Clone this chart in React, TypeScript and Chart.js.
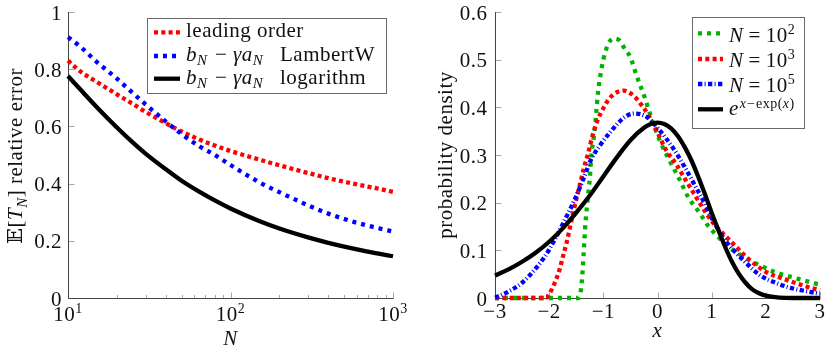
import { useEffect, useRef } from 'react';
import { Chart, registerables } from 'chart.js';

Chart.register(...registerables);

const FONT = '"Liberation Serif", "DejaVu Serif", "DejaVu Sans", serif';
const BASE = 21;
const SUB = 15;
const SUP = 14;
const TEXT = '#111111';
const AXIS = '#444444';
const TICK = '#a8a8a8';
const RED = '#ff0000';
const BLUE = '#0000ff';
const GREEN = 'rgb(0,179,0)';
const BLACK = '#000000';

// ---------- left chart: relative error vs N ----------
const errN = [10, 12, 15, 20, 25, 30, 40, 50, 65, 80, 100, 150, 200, 300, 400, 600, 800, 1000];
const errLeading = [0.83, 0.791, 0.756, 0.712, 0.679, 0.651, 0.611, 0.582, 0.553, 0.533, 0.514, 0.484, 0.464, 0.437, 0.419, 0.397, 0.383, 0.371];
const errLambertW = [0.912, 0.877, 0.826, 0.767, 0.717, 0.677, 0.617, 0.573, 0.529, 0.5, 0.465, 0.405, 0.37, 0.324, 0.295, 0.263, 0.245, 0.232];
const errLogarithm = [0.776, 0.727, 0.668, 0.596, 0.544, 0.505, 0.45, 0.41, 0.37, 0.341, 0.313, 0.269, 0.243, 0.212, 0.193, 0.17, 0.156, 0.146];
const errYTicks = [0, 0.2, 0.4, 0.6, 0.8, 1];
const errYLabels = ['0', '0.2', '0.4', '0.6', '0.8', '1'];
const errXMajor = [10, 100, 1000];
const errXExps = ['1', '2', '3'];
const errXMinor = [20, 30, 40, 50, 60, 70, 80, 90, 200, 300, 400, 500, 600, 700, 800, 900];

// ---------- right chart: probability density ----------
const n2X = [-3, -2, -1.46, -1.43, -1.39, -1.36, -1.33, -1.29, -1.25, -1.22, -1.16, -1.13, -1.1, -1.05, -1.0, -0.92, -0.82, -0.72, -0.6, -0.5, -0.39, -0.24, -0.12, 0.04, 0.22, 0.41, 0.56, 0.78, 0.93, 1.03, 1.27, 1.58, 1.86, 2.2, 2.6, 3];
const n2Y = [0, 0, 0, 0.005, 0.045, 0.1, 0.157, 0.206, 0.251, 0.3, 0.352, 0.39, 0.43, 0.47, 0.5, 0.53, 0.544, 0.542, 0.522, 0.505, 0.468, 0.422, 0.38, 0.331, 0.289, 0.248, 0.213, 0.178, 0.152, 0.139, 0.111, 0.087, 0.07, 0.053, 0.04, 0.028];
const n3X = [-3, -2.5, -2.06, -2.0, -1.9, -1.81, -1.745, -1.68, -1.62, -1.56, -1.48, -1.42, -1.36, -1.28, -1.2, -1.1, -1.0, -0.9, -0.79, -0.62, -0.42, -0.27, -0.17, -0.02, 0.16, 0.35, 0.5, 0.69, 0.87, 1.03, 1.36, 1.7, 2.0, 2.38, 2.75, 3];
const n3Y = [0, 0, 0, 0.008, 0.031, 0.059, 0.087, 0.115, 0.146, 0.178, 0.216, 0.244, 0.272, 0.304, 0.34, 0.375, 0.398, 0.417, 0.429, 0.435, 0.422, 0.401, 0.384, 0.352, 0.31, 0.28, 0.251, 0.216, 0.183, 0.157, 0.118, 0.08, 0.055, 0.038, 0.024, 0.016];
const n5X = [-3, -2.95, -2.76, -2.51, -2.27, -2.08, -1.9, -1.71, -1.53, -1.375, -1.22, -1.05, -0.88, -0.6, -0.42, -0.2, 0.01, 0.29, 0.5, 0.72, 0.9, 1.0, 1.27, 1.58, 1.89, 2.2, 2.5, 2.81, 3];
const n5Y = [0.001, 0.003, 0.013, 0.031, 0.059, 0.087, 0.122, 0.164, 0.206, 0.248, 0.292, 0.322, 0.347, 0.38, 0.387, 0.38, 0.356, 0.314, 0.275, 0.23, 0.192, 0.168, 0.118, 0.08, 0.048, 0.031, 0.02, 0.013, 0.009];
const gumX = [-3, -2.75, -2.5, -2.25, -2, -1.75, -1.5, -1.25, -1, -0.75, -0.5, -0.25, -0.125, 0, 0.125, 0.25, 0.375, 0.5, 0.625, 0.75, 0.875, 1, 1.125, 1.25, 1.375, 1.5, 1.625, 1.75, 1.875, 2, 2.25, 2.5, 3];
const gumY = [0.047, 0.06, 0.076, 0.095, 0.118, 0.146, 0.179, 0.215, 0.255, 0.295, 0.331, 0.357, 0.365, 0.368, 0.365, 0.356, 0.34, 0.317, 0.289, 0.255, 0.218, 0.179, 0.142, 0.107, 0.076, 0.051, 0.032, 0.018, 0.01, 0.005, 0.001, 0, 0];
const denXTicks = [-3, -2, -1, 0, 1, 2, 3];
const denXLabels = ['\u22123', '\u22122', '\u22121', '0', '1', '2', '3'];
const denYTicks = [0, 0.1, 0.2, 0.3, 0.4, 0.5, 0.6];
const denYLabels = ['0', '0.1', '0.2', '0.3', '0.4', '0.5', '0.6'];

const DOTS = [4, 3.3];
const LOOSE = [4, 5];
const DASHDOT = [4.3, 2.3, 1, 2.4];
const LW = 4.3;

type Run = { t: string; it?: boolean; sz?: number; dy?: number; gap?: number; at?: number };

function setFont(ctx: CanvasRenderingContext2D, r: Run, base: number) {
  ctx.font = `${r.it ? 'italic ' : ''}${r.sz ?? base}px ${FONT}`;
  (ctx as any).letterSpacing = '0.5px';
}

function runsWidth(ctx: CanvasRenderingContext2D, runs: Run[], base: number) {
  let cx = 0;
  for (const r of runs) {
    if (r.at !== undefined) cx = r.at;
    cx += r.gap ?? 0;
    setFont(ctx, r, base);
    cx += ctx.measureText(r.t).width;
  }
  return cx;
}

function drawRuns(ctx: CanvasRenderingContext2D, runs: Run[], x: number, y: number, base: number) {
  let cx = 0;
  ctx.textAlign = 'left';
  ctx.textBaseline = 'alphabetic';
  ctx.fillStyle = TEXT;
  for (const r of runs) {
    if (r.at !== undefined) cx = r.at;
    cx += r.gap ?? 0;
    setFont(ctx, r, base);
    ctx.fillText(r.t, x + cx, y + (r.dy ?? 0));
    cx += ctx.measureText(r.t).width;
  }
}

function drawCentered(ctx: CanvasRenderingContext2D, runs: Run[], cx: number, y: number, base: number) {
  ctx.save();
  const w = runsWidth(ctx, runs, base);
  drawRuns(ctx, runs, cx - w / 2, y, base);
  ctx.restore();
}

function sample(ctx: CanvasRenderingContext2D, x0: number, x1: number, y: number, color: string, dash: number[]) {
  ctx.save();
  ctx.strokeStyle = color;
  ctx.lineWidth = LW;
  ctx.lineCap = 'butt';
  ctx.setLineDash(dash);
  ctx.beginPath();
  ctx.moveTo(x0, y);
  ctx.lineTo(x1, y);
  ctx.stroke();
  ctx.restore();
}

function legendBox(ctx: CanvasRenderingContext2D, x0: number, y0: number, x1: number, y1: number) {
  ctx.save();
  ctx.fillStyle = '#ffffff';
  ctx.fillRect(x0, y0, x1 - x0, y1 - y0);
  ctx.strokeStyle = '#6a6a6a';
  ctx.lineWidth = 1;
  ctx.strokeRect(Math.round(x0) + 0.5, Math.round(y0) + 0.5, Math.round(x1 - x0), Math.round(y1 - y0));
  ctx.restore();
}

function drawAxesFrame(chart: any, xTicks: { v: number; len: number }[], yTicks: number[]) {
  const { ctx, chartArea } = chart;
  const xs = chart.scales.x;
  const ys = chart.scales.y;
  const L = Math.round(chartArea.left) + 0.5;
  const B = Math.round(chartArea.bottom) + 0.5;
  ctx.save();
  ctx.lineWidth = 1;
  ctx.strokeStyle = TICK;
  ctx.beginPath();
  for (const t of xTicks) {
    const px = Math.round(xs.getPixelForValue(t.v)) + 0.5;
    ctx.moveTo(px, B);
    ctx.lineTo(px, B - t.len);
  }
  for (const v of yTicks) {
    const py = Math.round(ys.getPixelForValue(v)) + 0.5;
    ctx.moveTo(L, py);
    ctx.lineTo(L + 6, py);
  }
  ctx.stroke();
  ctx.strokeStyle = AXIS;
  ctx.beginPath();
  ctx.moveTo(L, Math.round(chartArea.top));
  ctx.lineTo(L, B);
  ctx.lineTo(Math.round(chartArea.right) + 0.5, B);
  ctx.stroke();
  ctx.restore();
}

function drawYLabels(chart: any, ticks: number[], labels: string[], pad: number) {
  const { ctx, chartArea } = chart;
  const ys = chart.scales.y;
  ctx.save();
  ctx.font = `${BASE}px ${FONT}`;
  (ctx as any).letterSpacing = '0.5px';
  ctx.fillStyle = TEXT;
  ctx.textAlign = 'right';
  ctx.textBaseline = 'alphabetic';
  ticks.forEach((v, i) => {
    ctx.fillText(labels[i], chartArea.left - pad, ys.getPixelForValue(v) + 7.5);
  });
  ctx.restore();
}

function drawRotatedTitle(ctx: CanvasRenderingContext2D, runs: Run[], bx: number, cy: number, base: number) {
  ctx.save();
  ctx.translate(bx, cy);
  ctx.rotate(-Math.PI / 2);
  drawCentered(ctx, runs, 0, 0, base);
  ctx.restore();
}

const leftPlugin = {
  id: 'leftDecor',
  beforeDatasetsDraw(chart: any) {
    const ctx = chart.ctx as CanvasRenderingContext2D;
    const xTicks = [
      ...errXMajor.map((v) => ({ v, len: 6 })),
      ...errXMinor.map((v) => ({ v, len: 3.5 })),
    ];
    drawAxesFrame(chart, xTicks, errYTicks);
    drawYLabels(chart, errYTicks, errYLabels, 6);
    const xs = chart.scales.x;
    errXMajor.forEach((v, i) => {
      drawCentered(ctx, [{ t: '10' }, { t: errXExps[i], sz: SUP, dy: -7.7 }], xs.getPixelForValue(v), 320.7, BASE);
    });
    const ca = chart.chartArea;
    drawCentered(ctx, [{ t: 'N', it: true }], (ca.left + ca.right) / 2, 345, BASE);
    drawRotatedTitle(
      ctx,
      [
        { t: '\u{1D53C}' },
        { t: '[' },
        { t: 'T', it: true },
        { t: 'N', it: true, sz: SUB, dy: 4.5 },
        { t: ']' },
        { t: ' relative error' },
      ],
      22,
      156,
      BASE,
    );
  },
  afterDraw(chart: any) {
    const ctx = chart.ctx as CanvasRenderingContext2D;
    legendBox(ctx, 147, 18, 386, 93);
    sample(ctx, 154, 180, 32.3, RED, DOTS);
    sample(ctx, 154, 180, 56, BLUE, LOOSE);
    sample(ctx, 154, 180, 78.7, BLACK, []);
    const tx = 186;
    drawRuns(ctx, [{ t: 'leading order' }], tx, 37.3, BASE);
    const pre: Run[] = [
      { t: 'b', it: true },
      { t: 'N', it: true, sz: SUB, dy: 4.5 },
      { t: '\u2212', at: 29 },
      { t: '\u03B3', it: true, at: 47 },
      { t: 'a', it: true },
      { t: 'N', it: true, sz: SUB, dy: 4.5 },
    ];
    drawRuns(ctx, [...pre, { t: 'LambertW', at: 94 }], tx, 60.7, BASE);
    drawRuns(ctx, [...pre, { t: 'logarithm', at: 94 }], tx, 83.5, BASE);
  },
};

const rightPlugin = {
  id: 'rightDecor',
  beforeDatasetsDraw(chart: any) {
    const ctx = chart.ctx as CanvasRenderingContext2D;
    drawAxesFrame(chart, denXTicks.map((v) => ({ v, len: 6 })), denYTicks);
    drawYLabels(chart, denYTicks, denYLabels, 7.5);
    const xs = chart.scales.x;
    denXTicks.forEach((v, i) => {
      drawCentered(ctx, [{ t: denXLabels[i] }], xs.getPixelForValue(v), 318, BASE);
    });
    const ca = chart.chartArea;
    drawCentered(ctx, [{ t: 'x', it: true }], (ca.left + ca.right) / 2, 337, BASE);
    drawRotatedTitle(ctx, [{ t: 'probability density' }], 36.6, 155, BASE);
  },
  afterDraw(chart: any) {
    const ctx = chart.ctx as CanvasRenderingContext2D;
    legendBox(ctx, 277, 17, 389, 128);
    sample(ctx, 283, 308, 33.3, GREEN, LOOSE);
    sample(ctx, 283, 308, 59, RED, DOTS);
    sample(ctx, 283, 308, 84, BLUE, DASHDOT);
    sample(ctx, 283, 308, 109.3, BLACK, []);
    const tx = 314;
    const nRow = (e: string): Run[] => [
      { t: 'N', it: true },
      { t: '=', gap: 5 },
      { t: '10', gap: 5 },
      { t: e, sz: SUP, dy: -8 },
    ];
    drawRuns(ctx, nRow('2'), tx, 41.6, BASE);
    drawRuns(ctx, nRow('3'), tx, 66.7, BASE);
    drawRuns(ctx, nRow('5'), tx, 91.7, BASE);
    drawRuns(
      ctx,
      [
        { t: 'e', it: true },
        { t: 'x', it: true, sz: SUP, dy: -7, gap: 1 },
        { t: '\u2212', sz: SUP, dy: -7, gap: 0.5 },
        { t: 'exp', sz: SUP, dy: -7, gap: 0.5 },
        { t: '(', sz: SUP, dy: -7 },
        { t: 'x', it: true, sz: SUP, dy: -7 },
        { t: ')', sz: SUP, dy: -7 },
      ],
      tx,
      115,
      BASE,
    );
  },
};

function lineDs(xs: number[], ys: number[], color: string, dash: number[], order: number) {
  return {
    data: xs.map((x, i) => ({ x, y: ys[i] })),
    borderColor: color,
    backgroundColor: color,
    borderWidth: LW,
    borderDash: dash,
    borderCapStyle: 'butt' as const,
    pointRadius: 0,
    pointHoverRadius: 0,
    cubicInterpolationMode: 'monotone' as const,
    tension: 0.4,
    fill: false,
    clip: false as const,
    order,
  };
}

function baseScales(xType: string, xMin: number, xMax: number, yMax: number, yWidth: number) {
  return {
    x: {
      type: xType,
      min: xMin,
      max: xMax,
      grid: { display: false },
      border: { display: false },
      ticks: { display: false },
      afterFit: (s: any) => {
        s.height = 53;
      },
    },
    y: {
      type: 'linear',
      min: 0,
      max: yMax,
      grid: { display: false },
      border: { display: false },
      ticks: { display: false },
      afterFit: (s: any) => {
        s.width = yWidth;
      },
    },
  };
}

export default function App() {
  const leftRef = useRef<HTMLCanvasElement>(null);
  const rightRef = useRef<HTMLCanvasElement>(null);

  useEffect(() => {
    const left = new Chart(leftRef.current as HTMLCanvasElement, {
      type: 'line',
      data: {
        datasets: [
          lineDs(errN, errLeading, RED, DOTS, 3),
          lineDs(errN, errLambertW, BLUE, LOOSE, 2),
          lineDs(errN, errLogarithm, BLACK, [], 1),
        ] as any,
      },
      options: {
        responsive: false,
        animation: false,
        devicePixelRatio: 1,
        events: [],
        layout: { padding: { top: 12, right: 22, left: 0, bottom: 0 } },
        plugins: { legend: { display: false }, tooltip: { enabled: false }, title: { display: false } },
        scales: baseScales('logarithmic', 10, 1000, 1, 68) as any,
      },
      plugins: [leftPlugin],
    });
    const right = new Chart(rightRef.current as HTMLCanvasElement, {
      type: 'line',
      data: {
        datasets: [
          lineDs(n2X, n2Y, GREEN, LOOSE, 4),
          lineDs(n3X, n3Y, RED, DOTS, 3),
          lineDs(n5X, n5Y, BLUE, DASHDOT, 2),
          lineDs(gumX, gumY, BLACK, [], 1),
        ] as any,
      },
      options: {
        responsive: false,
        animation: false,
        devicePixelRatio: 1,
        events: [],
        layout: { padding: { top: 12, right: 10, left: 0, bottom: 0 } },
        plugins: { legend: { display: false }, tooltip: { enabled: false }, title: { display: false } },
        scales: baseScales('linear', -3, 3, 0.6, 80) as any,
      },
      plugins: [rightPlugin],
    });
    return () => {
      left.destroy();
      right.destroy();
    };
  }, []);

  return (
    <div style={{ position: 'absolute', left: 0, top: 0, width: 830, height: 351, background: '#ffffff' }}>
      <canvas
        ref={leftRef}
        width={415}
        height={351}
        style={{ position: 'absolute', left: 0, top: 0, width: 415, height: 351 }}
      />
      <canvas
        ref={rightRef}
        width={415}
        height={351}
        style={{ position: 'absolute', left: 415, top: 0, width: 415, height: 351 }}
      />
    </div>
  );
}
